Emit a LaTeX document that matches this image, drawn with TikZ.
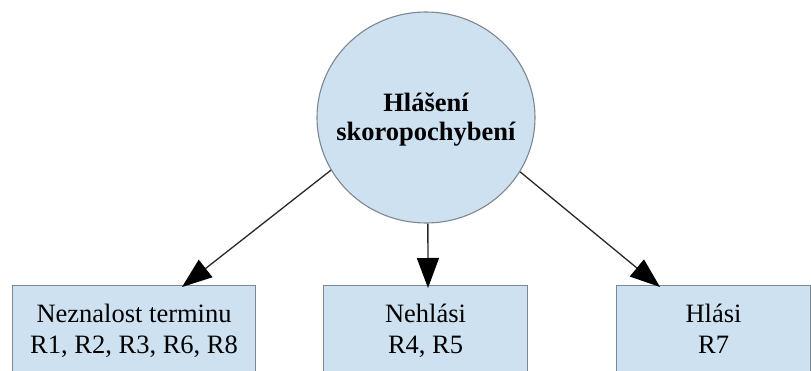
\documentclass[tikz,border=0pt]{standalone}
\usepackage{fontspec}
\setmainfont{Liberation Serif}
\usetikzlibrary{arrows.meta,shapes.geometric}

\definecolor{paleblue}{RGB}{206,225,241}
\definecolor{edgegray}{RGB}{125,135,145}
\definecolor{linkgray}{RGB}{40,40,40}

\tikzset{
  hubshape/.style={ellipse, draw=edgegray, line width=1.1pt, fill=paleblue,
    minimum width=218pt, minimum height=211pt, inner sep=0pt},
  % the box baseline of a multi-line text is its last line
  hubtext/.style={font=\fontsize{26.5}{28.5}\selectfont\bfseries, align=center,
    inner sep=0pt, text height=53pt, text depth=7pt},
  leafbox/.style={rectangle, draw=edgegray, line width=1.1pt, fill=paleblue,
    anchor=north west, inner xsep=0pt, inner ysep=0pt,
    font=\fontsize{26.5}{31}\selectfont, align=center,
    text height=68pt, text depth=60pt},
  link/.style={draw=linkgray, line width=1.3pt,
    -{Triangle[length=30pt,width=22pt,black]}},
}

\begin{document}
\begin{tikzpicture}[x=1pt,y=-1pt]
  \useasboundingbox (0,0) rectangle (811,371);
  \clip (0,0) rectangle (811,371);
  \fill[white] (0,0) rectangle (811,371);

  % central topic
  \node[hubshape, label={[hubtext]center:Hlášení\\skoropochybení}]
    (hub) at (426,117.5) {};

  % categories
  \node[leafbox, minimum width=243pt] (lb) at (12,285)
    {Neznalost terminu\\R1, R2, R3, R6, R8};
  \node[leafbox, minimum width=204pt] (mb) at (323,285)
    {Nehlási\\R4, R5};
  \node[leafbox, minimum width=194pt] (rb) at (616,285)
    {Hlási\\R7};

  % connectors
  \draw[link] (hub.209) -- ([xshift=170pt,yshift=-2pt]lb.north west);
  \draw[link] (hub.-89) -- ([xshift=105pt,yshift=-3pt]mb.north west);
  \draw[link] (hub.-30) -- ([xshift=44pt,yshift=-2pt]rb.north west);
\end{tikzpicture}
\end{document}
